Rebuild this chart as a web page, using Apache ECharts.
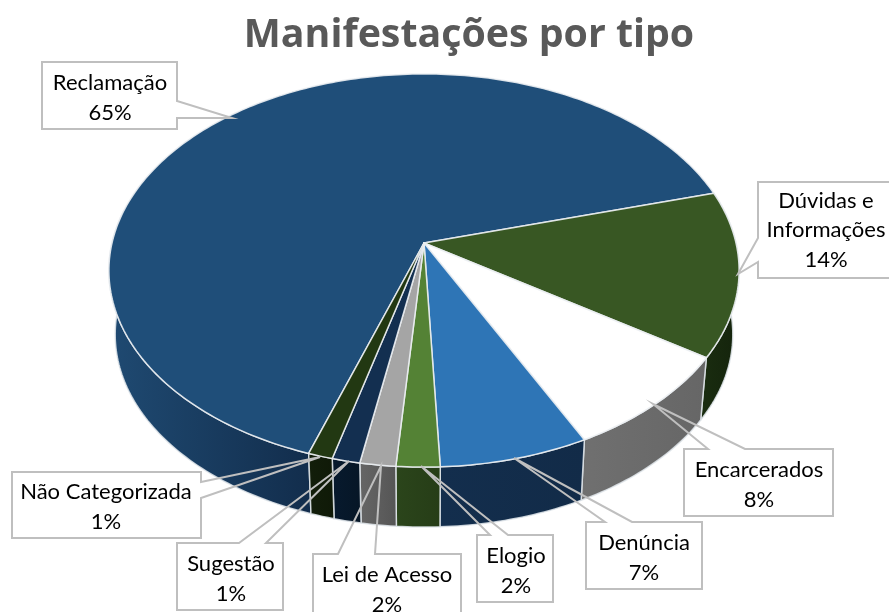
<!DOCTYPE html>
<html><head><meta charset="utf-8">
<style>html,body{margin:0;padding:0;background:#fff}#c{width:889px;height:612px}</style>
<script src="https://cdn.jsdelivr.net/npm/echarts@6/dist/echarts.min.js"></script>
</head><body><div id="c"></div>
<script>
const categories = ['Reclamação','Dúvidas e\nInformações','Encarcerados','Denúncia','Elogio','Lei de Acesso','Sugestão','Não Categorizada'];
const values = [65.4, 13.55, 8.3, 6.7, 1.95, 1.6, 1.25, 1.1];
const percentLabels = ['65%','14%','8%','7%','2%','2%','1%','1%'];

const topColors = ['#1F4E79','#385723','#FFFFFF','#2E75B6','#548235','#A5A5A5','#132F50','#223812'];
const wallColors = [['#1F4A72','#122D4C'],['#1A2D10','#14230C'],['#707070','#666666'],['#132E4D','#122B48'],['#2B451B','#263D17'],['#666666','#555555'],['#071A2E','#061626'],['#121E0A','#0F1907']];

// Callout boxes: [left, top, right, bottom], wedge polygon points, text centre
const callouts = [
  {box:[42,62,177,129], wedge:[[177,101],[232,118],[177,118]], side:'r'},
  {box:[758,182,892,278], wedge:[[758,238],[738,274],[758,262]], side:'l'},
  {box:[684,449,833,516], wedge:[[708,449],[653,404],[745,449]], side:'t'},
  {box:[586,522,702,589], wedge:[[605,522],[514,458],[632,522]], side:'t'},
  {box:[477,535,553,602], wedge:[[490,535],[421,466],[508,535]], side:'t'},
  {box:[313,554,461,620], wedge:[[338,554],[381,466],[375,554]], side:'t'},
  {box:[177,543,283,610], wedge:[[239,543],[349,461],[266,543]], side:'t'},
  {box:[12,472,201,538], wedge:[[201,482],[320,457],[201,498]], side:'r'}
];
const textCentres = [[110,98],[826,230],[759,485],[644,558],[516,571],[387,590],[231,579],[106,507]];

const startDeg = 108.7;
const pie = {cx:424, cy:243, a:312, b:192.7, k:0.14, scale:0.98, drop:64.5};
const total = values.reduce((s,v)=>s+v,0);
function sliceRange(i){
  let acc = 0; for(let j=0;j<i;j++) acc += values[j];
  return [startDeg+acc/total*360, startDeg+(acc+values[i])/total*360];
}
function facePoint(deg, s, dy){
  const r = deg*Math.PI/180, x = Math.cos(r), y = Math.sin(r), w = 1-pie.k*y;
  return [pie.cx+s*pie.a*x/w, pie.cy+dy+s*pie.b*y/w];
}
function arc(from,to,s,dy){
  const n = Math.max(2,Math.ceil(Math.abs(to-from))), out=[];
  for(let i=0;i<=n;i++) out.push(facePoint(from+(to-from)*i/n,s,dy));
  return out;
}
function renderWall(params){
  const i = params.dataIndex;
  let [from,to] = sliceRange(i);
  // only the near part of the rim is visible
  if(from<=180 && to>180) to = Math.min(to,190);
  const pts = arc(from,to,1,0).concat(arc(to,from,pie.scale,pie.drop));
  return {type:'polygon', shape:{points:pts}, silent:true, style:{
    fill:{type:'linear',x:0,y:0,x2:1,y2:0,colorStops:[{offset:0,color:wallColors[i][0]},{offset:1,color:wallColors[i][1]}]},
    stroke:'rgba(225,230,235,0.85)', lineWidth:1.5, lineJoin:'round'}};
}
function renderTop(params){
  const i = params.dataIndex;
  const [from,to] = sliceRange(i);
  const pts = [[pie.cx,pie.cy]].concat(arc(from,to,1,0));
  return {type:'polygon', shape:{points:pts}, silent:true, style:{fill:topColors[i], stroke:'rgba(235,238,242,0.9)', lineWidth:1.5, lineJoin:'round'}};
}
function renderCallout(params){
  const i = params.dataIndex, c = callouts[i], [l,t,r,b] = c.box, w = c.wedge;
  let pts;
  if(c.side==='r') pts=[[l,t],[r,t],w[0],w[1],w[2],[r,b],[l,b]];
  else if(c.side==='l') pts=[[l,t],[r,t],[r,b],[l,b],w[2],w[1],w[0]];
  else pts=[[l,t],w[0],w[1],w[2],[r,t],[r,b],[l,b]];
  return {type:'group',children:[
    {type:'polygon',shape:{points:pts},silent:true,style:{fill:'none',stroke:'#BFBFBF',lineWidth:2,lineJoin:'miter'}},
    {type:'text',silent:true,style:{x:textCentres[i][0],y:textCentres[i][1],text:categories[i]+'\n'+percentLabels[i],
      align:'center',verticalAlign:'middle',fill:'#000',font:'22px Lato',lineHeight:29.5}}
  ]};
}
const seriesData = categories.map((c,i)=>({name:c,value:values[i]}));
const chart = echarts.init(document.getElementById('c'),null,{renderer:'canvas'});
chart.setOption({
  animation:false,
  title:{text:'Manifestações por tipo',left:464,top:11,textAlign:'center',textStyle:{fontFamily:'Open Sans',fontWeight:'bold',fontSize:39.3,color:'#595959'}},
  series:[
    {type:'custom',coordinateSystem:'none',clip:false,data:seriesData,renderItem:renderWall,z:1},
    {type:'custom',coordinateSystem:'none',clip:false,data:seriesData,renderItem:renderTop,z:2},
    {type:'custom',coordinateSystem:'none',clip:false,data:seriesData,renderItem:renderCallout,z:3}
  ]
});
</script></body></html>
